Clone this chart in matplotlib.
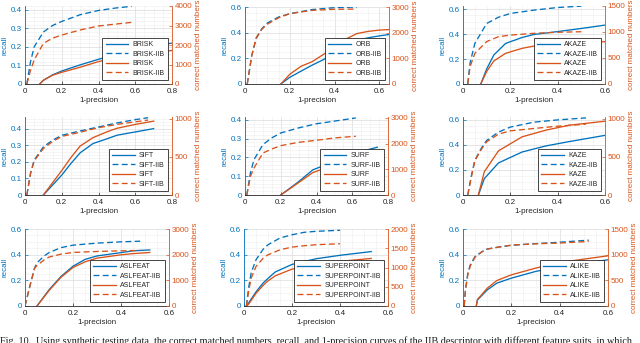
import numpy as np
import matplotlib
matplotlib.use('Agg')
import matplotlib.pyplot as plt
from matplotlib.ticker import MultipleLocator, AutoMinorLocator

# ---- data: x = 1-precision, recall (left), count (right)
brisk_x = [0.08, 0.1, 0.15, 0.2, 0.3, 0.4, 0.5, 0.6, 0.7, 0.8]
brisk_recall = [0, 0.02, 0.049, 0.07, 0.103, 0.133, 0.16, 0.185, 0.205, 0.22]
brisk_count = [0, 190, 450, 600, 860, 1150, 1350, 1500, 1620, 1720]
brisk_iib_x = [0.01, 0.03, 0.05, 0.1, 0.15, 0.2, 0.3, 0.4, 0.5, 0.58]
brisk_iib_recall = [0, 0.12, 0.2, 0.28, 0.315, 0.337, 0.373, 0.396, 0.41, 0.418]
brisk_iib_count = [0, 700, 1230, 2085, 2350, 2510, 2770, 2975, 3080, 3160]

orb_x = [0.16, 0.2, 0.25, 0.3, 0.35, 0.4, 0.45, 0.5, 0.55, 0.6, 0.64]
orb_recall = [0, 0.052, 0.1, 0.147, 0.19, 0.24, 0.29, 0.34, 0.36, 0.375, 0.385]
orb_count = [0, 380, 690, 870, 1150, 1450, 1750, 1965, 2050, 2100, 2120]
orb_iib_x = [0.01, 0.03, 0.05, 0.075, 0.1, 0.15, 0.2, 0.3, 0.4, 0.5]
orb_iib_recall = [0, 0.22, 0.354, 0.43, 0.476, 0.522, 0.548, 0.58, 0.595, 0.6]
orb_iib_count = [0, 1100, 1810, 2130, 2330, 2580, 2740, 2870, 2910, 2920]

akaze_x = [0.075, 0.1, 0.13, 0.18, 0.25, 0.3, 0.4, 0.5, 0.6]
akaze_recall = [0, 0.12, 0.232, 0.325, 0.373, 0.397, 0.42, 0.445, 0.472]
akaze_count = [0, 240, 442, 590, 686, 730, 770, 795, 814]
akaze_iib_x = [0.02, 0.03, 0.05, 0.1, 0.15, 0.2, 0.3, 0.4, 0.5]
akaze_iib_recall = [0, 0.17, 0.325, 0.485, 0.535, 0.565, 0.592, 0.613, 0.624]
akaze_iib_count = [0, 333, 590, 815, 910, 940, 975, 995, 1005]

sift_x = [0.1, 0.15, 0.2, 0.25, 0.3, 0.37, 0.45, 0.5, 0.6, 0.7]
sift_recall = [0, 0.06, 0.12, 0.19, 0.254, 0.31, 0.34, 0.36, 0.38, 0.4]
sift_count = [0, 160, 320, 490, 640, 750, 830, 872, 923, 966]
sift_iib_x = [0.01, 0.03, 0.05, 0.1, 0.15, 0.2, 0.3, 0.4, 0.5, 0.6, 0.67]
sift_iib_recall = [0, 0.13, 0.21, 0.29, 0.33, 0.36, 0.386, 0.41, 0.434, 0.454, 0.466]
sift_iib_count = [0, 280, 447, 608, 700, 766, 821, 880, 923, 957, 980]

surf_x = [0.2, 0.25, 0.3, 0.38, 0.45, 0.55, 0.65, 0.74]
surf_recall = [0, 0.035, 0.071, 0.134, 0.16, 0.2, 0.232, 0.254]
surf_count = [0, 240, 482, 873, 1043, 1250, 1400, 1500]
surf_iib_x = [0.01, 0.03, 0.05, 0.1, 0.15, 0.2, 0.3, 0.4, 0.5, 0.62]
surf_iib_recall = [0, 0.116, 0.1875, 0.268, 0.304, 0.33, 0.357, 0.379, 0.393, 0.41]
surf_iib_count = [0, 717, 1043, 1630, 1786, 1917, 2047, 2125, 2217, 2282]

kaze_x = [0.065, 0.09, 0.15, 0.25, 0.35, 0.45, 0.6]
kaze_recall = [0, 0.13, 0.255, 0.342, 0.39, 0.425, 0.474]
kaze_count = [0, 304, 578, 761, 848, 913, 965]
kaze_iib_x = [0.02, 0.035, 0.05, 0.08, 0.1, 0.15, 0.2, 0.3, 0.4, 0.52]
kaze_iib_recall = [0, 0.15, 0.276, 0.38, 0.434, 0.5, 0.54, 0.579, 0.597, 0.613]
kaze_iib_count = [0, 230, 448, 609, 696, 796, 839, 870, 900, 926]

aslfeat_x = [0.05, 0.1, 0.15, 0.2, 0.25, 0.3, 0.4, 0.45, 0.52]
aslfeat_recall = [0, 0.126, 0.23, 0.31, 0.363, 0.39, 0.416, 0.43, 0.437]
aslfeat_count = [0, 600, 1120, 1500, 1720, 1865, 1995, 2040, 2086]
aslfeat_iib_x = [0.0, 0.02, 0.04, 0.05, 0.08, 0.1, 0.15, 0.2, 0.3, 0.4, 0.48]
aslfeat_iib_recall = [0, 0.153, 0.297, 0.337, 0.39, 0.416, 0.455, 0.474, 0.49, 0.5, 0.505]
aslfeat_iib_count = [0, 760, 1473, 1578, 1800, 1905, 2020, 2086, 2125, 2150, 2165]

superpoint_x = [0.01, 0.02, 0.05, 0.08, 0.1, 0.13, 0.2, 0.3, 0.4, 0.53]
superpoint_recall = [0, 0.026, 0.11, 0.18, 0.215, 0.265, 0.324, 0.368, 0.395, 0.424]
superpoint_count = [0, 52, 330, 539, 652, 783, 957, 1080, 1160, 1235]
superpoint_iib_x = [0.01, 0.02, 0.03, 0.05, 0.08, 0.1, 0.15, 0.2, 0.25, 0.3, 0.4]
superpoint_iib_recall = [0, 0.15, 0.26, 0.36, 0.443, 0.477, 0.53, 0.555, 0.574, 0.582, 0.59]
superpoint_iib_count = [0, 417, 722, 1026, 1243, 1330, 1460, 1530, 1565, 1591, 1617]

alike_x = [0.055, 0.06, 0.08, 0.1, 0.14, 0.2, 0.3, 0.4, 0.5, 0.6]
alike_recall = [0, 0.047, 0.086, 0.125, 0.178, 0.217, 0.269, 0.308, 0.334, 0.36]
alike_count = [0, 130, 235, 346, 496, 607, 737, 848, 913, 978]
alike_iib_x = [0.005, 0.01, 0.02, 0.03, 0.05, 0.08, 0.1, 0.15, 0.2, 0.3, 0.4, 0.52]
alike_iib_recall = [0, 0.125, 0.256, 0.32, 0.386, 0.425, 0.444, 0.46, 0.473, 0.486, 0.497, 0.513]
alike_iib_count = [0, 300, 607, 780, 952, 1060, 1108, 1150, 1186, 1212, 1226, 1258]

names = ['BRISK', 'ORB', 'AKAZE', 'SIFT', 'SURF', 'KAZE', 'ASLFEAT', 'SUPERPOINT', 'ALIKE']

caption = ('Fig. 10.  Using synthetic testing data, the correct matched numbers, recall, '
           'and 1-precision curves of the IIB descriptor with different feature suits, in which')

BLUE = '#0072BD'
ORANGE = '#D95319'
DARK = '#262626'


def draw_panel(fig, box, name, base, iib, xmax, ylim_l, ystep_l, ylim_r, ystep_r):
    W, H = 640.0, 343.0
    l, t, r, b = box
    ax = fig.add_axes([l / W, 1 - b / H, (r - l) / W, (b - t) / H])
    ax2 = ax.twinx()

    h1, = ax.plot(base[0], base[1], '-', color=BLUE, lw=0.95, label=name)
    h2, = ax.plot(iib[0], iib[1], '--', color=BLUE, lw=0.95, dashes=(4.5, 2.5), label=name + '-IIB')
    h3, = ax2.plot(base[0], base[2], '-', color=ORANGE, lw=0.95, label=name)
    h4, = ax2.plot(iib[0], iib[2], '--', color=ORANGE, lw=0.95, dashes=(4.5, 2.5), label=name + '-IIB')

    ax.set_xlim(0, xmax)
    ax.set_ylim(*ylim_l)
    ax2.set_ylim(*ylim_r)
    ax.xaxis.set_major_locator(MultipleLocator(0.2))
    ax.xaxis.set_minor_locator(AutoMinorLocator(4))
    ax.yaxis.set_major_locator(MultipleLocator(ystep_l))
    ax.yaxis.set_minor_locator(AutoMinorLocator(5 if ystep_l < 0.15 else 4))
    ax2.yaxis.set_major_locator(MultipleLocator(ystep_r))
    ax.xaxis.set_major_formatter(plt.FuncFormatter(lambda v, p: '%g' % round(v, 2)))
    ax.yaxis.set_major_formatter(plt.FuncFormatter(lambda v, p: '%g' % round(v, 2)))

    ax.grid(which='major', color='#dadada', lw=0.5)
    ax.grid(which='minor', color='#eeeeee', lw=0.4)
    ax.set_axisbelow(True)

    for s in ['top', 'right']:
        ax.spines[s].set_visible(False)
    for s in ['top', 'left', 'bottom']:
        ax2.spines[s].set_visible(False)
    ax.spines['left'].set_color(BLUE)
    ax.spines['bottom'].set_color(DARK)
    ax2.spines['right'].set_color(ORANGE)
    for sp in list(ax.spines.values()) + list(ax2.spines.values()):
        sp.set_linewidth(0.6)

    ax.tick_params(axis='x', which='both', direction='in', colors=DARK, labelsize=5.8,
                   pad=2.6, width=0.5, length=2)
    ax.tick_params(axis='x', which='minor', length=0)
    ax.tick_params(axis='y', which='both', direction='in', colors=BLUE, labelsize=5.8,
                   pad=2, width=0.5, length=2)
    ax.tick_params(axis='y', which='minor', length=0)
    ax2.tick_params(axis='y', direction='in', colors=ORANGE, labelsize=5.8,
                    pad=2, width=0.5, length=2)

    ax.set_xlabel('1-precision', fontsize=5.8, color=DARK, labelpad=2)
    ax.set_ylabel('recall', fontsize=5.8, color=BLUE, labelpad=2)
    ax2.set_ylabel('correct matched numbers', fontsize=5.8, color=ORANGE, labelpad=2)

    leg = ax2.legend(handles=[h1, h2, h3, h4], loc='lower right', fontsize=5,
                     handlelength=3.3, handletextpad=0.6, borderpad=0.45,
                     labelspacing=0.35, borderaxespad=0.6, fancybox=False,
                     framealpha=1, edgecolor=DARK)
    leg.get_frame().set_linewidth(0.6)
    for txt in leg.get_texts():
        txt.set_color(DARK)
    return ax, ax2


if __name__ == '__main__':
    plt.rcParams['font.family'] = ['Liberation Sans', 'DejaVu Sans']
    fig = plt.figure(figsize=(6.4, 3.43), dpi=100)

    data = {
        'BRISK': ((brisk_x, brisk_recall, brisk_count), (brisk_iib_x, brisk_iib_recall, brisk_iib_count)),
        'ORB': ((orb_x, orb_recall, orb_count), (orb_iib_x, orb_iib_recall, orb_iib_count)),
        'AKAZE': ((akaze_x, akaze_recall, akaze_count), (akaze_iib_x, akaze_iib_recall, akaze_iib_count)),
        'SIFT': ((sift_x, sift_recall, sift_count), (sift_iib_x, sift_iib_recall, sift_iib_count)),
        'SURF': ((surf_x, surf_recall, surf_count), (surf_iib_x, surf_iib_recall, surf_iib_count)),
        'KAZE': ((kaze_x, kaze_recall, kaze_count), (kaze_iib_x, kaze_iib_recall, kaze_iib_count)),
        'ASLFEAT': ((aslfeat_x, aslfeat_recall, aslfeat_count), (aslfeat_iib_x, aslfeat_iib_recall, aslfeat_iib_count)),
        'SUPERPOINT': ((superpoint_x, superpoint_recall, superpoint_count),
                       (superpoint_iib_x, superpoint_iib_recall, superpoint_iib_count)),
        'ALIKE': ((alike_x, alike_recall, alike_count), (alike_iib_x, alike_iib_recall, alike_iib_count)),
    }

    # pixel boxes (left, top, right, bottom) and axis settings per panel
    boxes = {
        'BRISK': (25, 6, 172, 84), 'ORB': (245, 7, 389, 84), 'AKAZE': (463, 6, 605, 84),
        'SIFT': (25, 117, 172, 195), 'SURF': (245, 117, 388, 195), 'KAZE': (463, 117, 605, 195),
        'ASLFEAT': (25, 229, 169, 306), 'SUPERPOINT': (244, 229, 388, 306), 'ALIKE': (463, 229, 608, 306),
    }
    limits = {
        'BRISK': (0.8, (0, 0.42), 0.1, (0, 4000), 1000),
        'ORB': (0.643, (0, 0.6), 0.2, (0, 3000), 1000),
        'AKAZE': (0.6, (0, 0.625), 0.2, (0, 1500), 500),
        'SIFT': (0.8, (0, 0.47), 0.1, (0, 1020), 500),
        'SURF': (0.8, (0, 0.415), 0.1, (0, 3030), 1000),
        'KAZE': (0.6, (0, 0.62), 0.2, (0, 1020), 500),
        'ASLFEAT': (0.6, (0, 0.6), 0.2, (0, 3000), 1000),
        'SUPERPOINT': (0.6, (0, 0.6), 0.2, (0, 2000), 500),
        'ALIKE': (0.6, (0, 0.6), 0.2, (0, 1500), 500),
    }

    for name in names:
        base, iib = data[name]
        draw_panel(fig, boxes[name], name, base, iib, *limits[name])

    cap = fig.text(0.0, 1 - 336.5 / 343, caption, family='Liberation Serif',
                   fontsize=7, va='top', ha='left', color='#1a1a1a')
    renderer = fig.canvas.get_renderer()
    w = cap.get_window_extent(renderer).width
    cap.set_fontsize(7 * 641 / w)

    fig.savefig('out.png', dpi=100)
